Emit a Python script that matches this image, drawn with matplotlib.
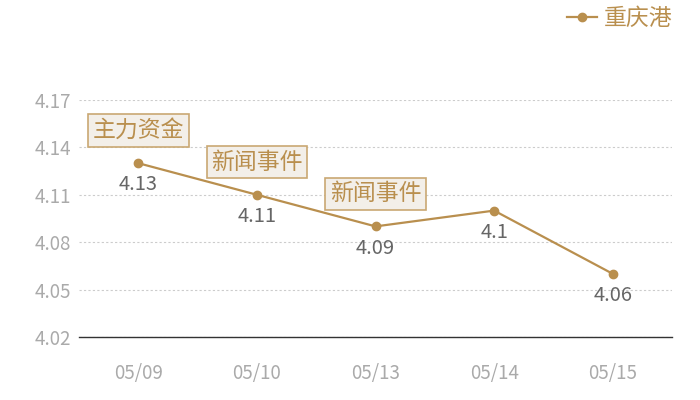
import matplotlib
matplotlib.use('Agg')
import matplotlib.pyplot as plt

plt.rcParams['font.family'] = ['Noto Sans CJK SC', 'DejaVu Sans']

# data
dates = ['05/09', '05/10', '05/13', '05/14', '05/15']
prices = [4.13, 4.11, 4.09, 4.10, 4.06]
price_labels = ['4.13', '4.11', '4.09', '4.1', '4.06']
yticks = [4.02, 4.05, 4.08, 4.11, 4.14, 4.17]
events = {0: '主力资金', 1: '新闻事件', 2: '新闻事件'}
series_name = '重庆港'

gold = '#b98f4e'

fig = plt.figure(figsize=(7, 4), dpi=100)
ax = fig.add_axes([0.113, 0.1575, 0.847, 0.5925])

x = list(range(len(dates)))
ax.plot(x, prices, color=gold, lw=1.6, marker='o', ms=6, label=series_name, zorder=3)

# value labels under each point
for i, (v, lab) in enumerate(zip(prices, price_labels)):
    ax.annotate(lab, (i, v), xytext=(0, -8), textcoords='offset points',
                ha='center', va='top', fontsize=14.5, color='#666666')

# event tags above points
for i, txt in events.items():
    ax.annotate(txt, (i, prices[i]), xytext=(0, 23.5), textcoords='offset points',
                ha='center', va='center', fontsize=16.5, color='#b98f4e',
                bbox=dict(boxstyle='square,pad=0.2', fc='#f3efe9', ec='#c9a873', lw=1.2))

ax.set_xlim(-0.5, len(dates) - 0.5)
ax.set_ylim(4.02, 4.17)
ax.set_xticks(x)
ax.set_xticklabels(dates)
ax.set_yticks(yticks)
ax.set_yticklabels(['%.2f' % t for t in yticks])
ax.tick_params(colors='#aaaaaa', labelsize=13.5, length=0, pad=6)
ax.tick_params(axis='x', pad=19)

ax.grid(axis='y', color='#cccccc', ls=(0, (2, 2)), lw=0.8)
for s in ['top', 'right', 'left']:
    ax.spines[s].set_visible(False)
ax.spines['bottom'].set_color('#333333')
ax.spines['bottom'].set_linewidth(1)

leg = fig.legend(loc='upper right', bbox_to_anchor=(0.99, 1.035), frameon=False,
                 fontsize=16.5, handlelength=1.3, handletextpad=0.3)
for t in leg.get_texts():
    t.set_color(gold)

fig.savefig('out.png', dpi=100)
